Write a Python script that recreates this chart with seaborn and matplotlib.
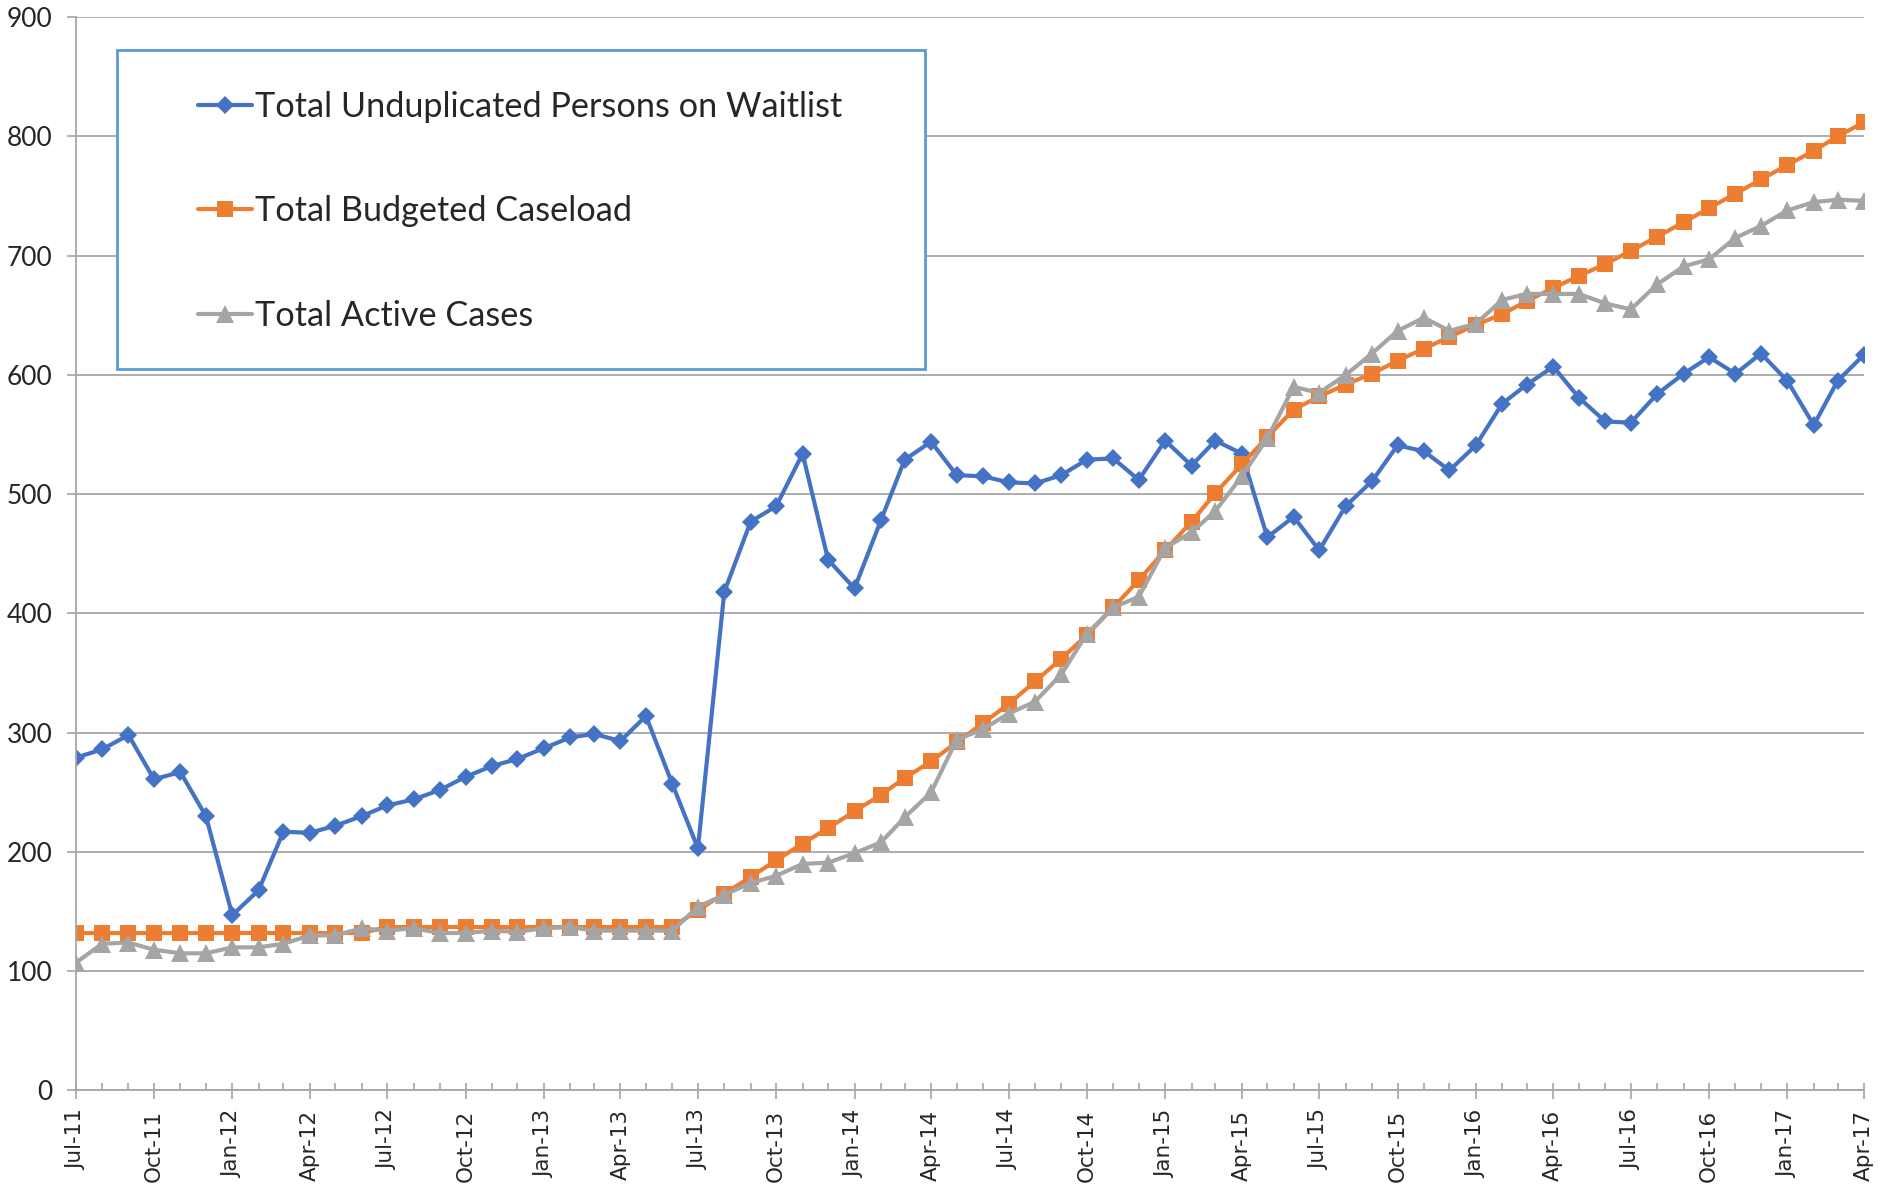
import numpy as np
import pandas as pd
import matplotlib
matplotlib.use("Agg")
import matplotlib.pyplot as plt
import matplotlib.dates as mdates
from matplotlib.patches import Rectangle
import seaborn as sns

# monthly values, Jul-11 .. Apr-17
months = pd.date_range("2011-07-01", "2017-04-01", freq="MS")

waitlist = [279, 286, 298, 261, 267, 230, 147, 168, 217, 216, 222, 230,
            239, 244, 252, 263, 272, 278, 287, 296, 299, 293, 314, 257,
            203, 418, 477, 490, 534, 445, 421, 478, 529, 544, 516, 515,
            510, 509, 516, 529, 530, 512, 545, 524, 545, 534, 464, 481,
            453, 490, 511, 541, 536, 520, 541, 576, 592, 607, 581, 561,
            560, 584, 601, 615, 601, 618, 595, 558, 595, 617]

budgeted = [132, 132, 132, 132, 132, 132, 132, 132, 132, 132, 132, 132,
            137, 137, 137, 137, 137, 137, 137, 137, 137, 137, 137, 137,
            151, 165, 179, 193, 207, 220, 234, 248, 262, 276, 292, 308,
            324, 343, 362, 382, 405, 428, 453, 477, 501, 525, 548, 571,
            582, 592, 601, 612, 622, 632, 642, 651, 662, 673, 683, 693,
            704, 716, 728, 740, 752, 764, 776, 788, 800, 812]

active = [107, 123, 124, 118, 115, 115, 120, 120, 123, 130, 130, 136,
          134, 136, 132, 132, 134, 133, 136, 137, 134, 134, 134, 134,
          154, 164, 174, 180, 190, 191, 199, 208, 229, 250, 294, 303,
          316, 326, 349, 383, 405, 414, 455, 468, 486, 515, 547, 590,
          585, 600, 618, 637, 648, 637, 643, 663, 668, 668, 668, 660,
          655, 676, 691, 697, 715, 725, 738, 745, 747, 746]

labels = ["Total Unduplicated Persons on Waitlist",
          "Total Budgeted Caseload",
          "Total Active Cases"]
colors = ["#4472C4", "#ED7D31", "#A5A5A5"]
markers = ["D", "s", "^"]
msizes = [9, 11.5, 12.5]

sns.set_style("white")
plt.rcParams["font.family"] = ["Lato", "DejaVu Sans"]

fig = plt.figure(figsize=(18.83, 11.89), dpi=100)
ax = fig.add_axes([0.0402, 0.0829, 0.9497, 0.9026])

for vals, lab, col, mk, ms in zip([waitlist, budgeted, active], labels, colors, markers, msizes):
    sns.lineplot(x=months, y=vals, ax=ax, color=col, linewidth=3.0,
                 marker=mk, markersize=ms, markeredgewidth=0, label=lab)

ax.set_ylim(0, 900)
ax.set_yticks(np.arange(0, 901, 100))
ax.set_xlim(months[0], months[-1])
ax.set_xlabel("")
ax.set_ylabel("")

ax.grid(axis="y", color="#a6a6a6", linewidth=1.3)
ax.set_axisbelow(True)
for side in ["top", "right"]:
    ax.spines[side].set_visible(False)
for side in ["left", "bottom"]:
    ax.spines[side].set_color("#a6a6a6")
    ax.spines[side].set_linewidth(1.3)

ax.xaxis.set_major_locator(mdates.MonthLocator(bymonth=[1, 4, 7, 10]))
ax.xaxis.set_major_formatter(mdates.DateFormatter("%b-%y"))
ax.xaxis.set_minor_locator(mdates.MonthLocator())
ax.xaxis.remove_overlapping_locs = False
ax.tick_params(axis="x", which="major", direction="out", length=6.7, width=1.2,
               color="#a6a6a6", labelrotation=90, labelsize=15.5, pad=7)
ax.tick_params(axis="x", which="minor", direction="in", length=4.8, width=1.2,
               color="#a6a6a6")
ax.tick_params(axis="y", which="major", direction="out", length=6.5, width=1.2,
               color="#a6a6a6", labelsize=19, pad=10)
ax.tick_params(bottom=True, left=True, which="both")
for t in ax.get_xticklabels():
    t.set_fontfamily("DejaVu Sans")

# legend box
box = Rectangle((0.0619, 0.6899), 0.4292, 0.2677, transform=fig.transFigure,
                facecolor="white", edgecolor="#5B9BD5", linewidth=2, zorder=5)
ax.add_patch(box)
leg = ax.legend(loc="center left", bbox_to_anchor=(0.1052, 0.8222),
                bbox_transform=fig.transFigure, frameon=False, fontsize=24.7,
                handlelength=1.57, handletextpad=0.1, labelspacing=2.12,
                borderpad=0, borderaxespad=0)
leg.set_zorder(6)

fig.savefig("out.png", dpi=100)
